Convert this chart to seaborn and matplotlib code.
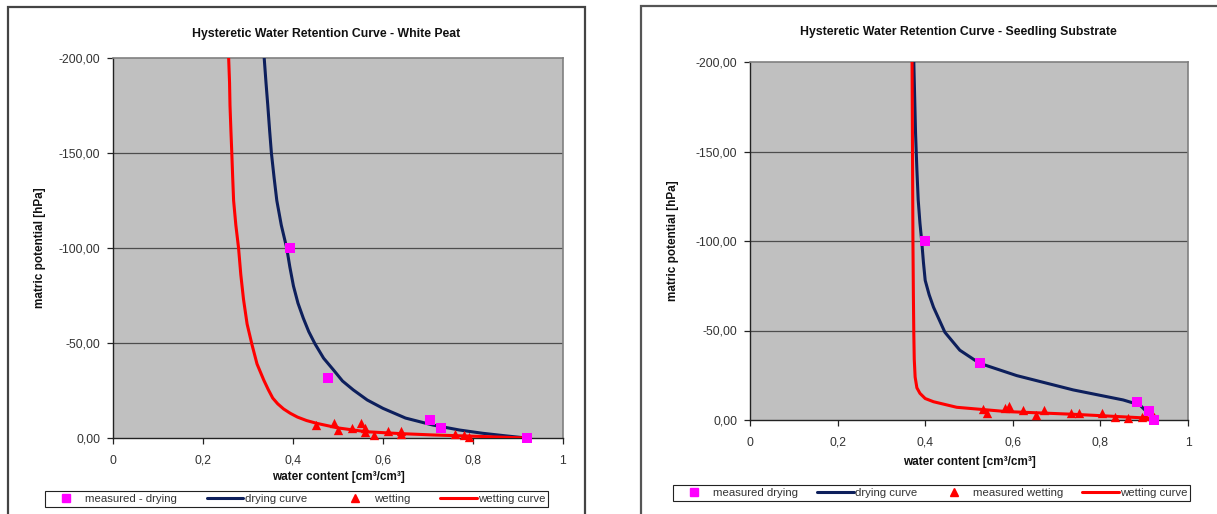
import matplotlib
matplotlib.use("Agg")
import matplotlib.pyplot as plt
from matplotlib.patches import Rectangle
from matplotlib.lines import Line2D
from matplotlib.ticker import FuncFormatter, FixedLocator
import seaborn as sns
import pandas as pd

# ---------------- data ----------------
# White Peat
wp_dry_meas_x = [0.394, 0.477, 0.704, 0.729, 0.920]
wp_dry_meas_y = [-100.0, -31.5, -9.5, -5.3, 0.0]
wp_wet_meas_x = [0.451, 0.492, 0.501, 0.532, 0.551, 0.560, 0.561, 0.580, 0.611, 0.641, 0.641, 0.761, 0.780, 0.790]
wp_wet_meas_y = [-6.8, -7.7, -4.2, -5.4, -7.7, -5.4, -3.0, -1.6, -3.7, -3.7, -1.9, -1.9, -1.6, -0.7]
wp_dry_curve_x = [0.336, 0.340, 0.344, 0.348, 0.352, 0.358, 0.364, 0.374, 0.386, 0.393, 0.401, 0.411, 0.423, 0.435, 0.449, 0.468, 0.490, 0.510, 0.534, 0.565, 0.600, 0.650, 0.711, 0.770, 0.821, 0.870, 0.918]
wp_dry_curve_y = [-200, -187, -175, -162, -150, -137, -125, -112, -100, -90, -80, -71, -63, -56, -49.5, -42, -35.8, -30, -25.3, -20, -15.6, -10.5, -6.8, -4.2, -2.5, -1.2, 0]
wp_wet_curve_x = [0.257, 0.259, 0.260, 0.262, 0.264, 0.266, 0.268, 0.273, 0.279, 0.284, 0.290, 0.298, 0.309, 0.320, 0.335, 0.345, 0.355, 0.366, 0.379, 0.394, 0.410, 0.430, 0.453, 0.500, 0.563, 0.640, 0.711, 0.820, 0.918]
wp_wet_curve_y = [-200, -187, -175, -162, -150, -137, -125, -112, -100, -86, -73, -60, -49, -39, -30.5, -25.5, -21, -18, -15.3, -13, -11, -9.2, -7.7, -5.3, -3.3, -2.3, -1.6, -0.8, 0]

# Seedling Substrate
ss_dry_meas_x = [0.400, 0.524, 0.883, 0.912, 0.922]
ss_dry_meas_y = [-100.0, -31.7, -9.9, -5.0, 0.0]
ss_wet_meas_x = [0.531, 0.540, 0.582, 0.592, 0.623, 0.652, 0.672, 0.733, 0.752, 0.803, 0.833, 0.864, 0.894, 0.902, 0.922]
ss_wet_meas_y = [-6.0, -4.1, -6.5, -7.8, -5.6, -2.8, -5.6, -3.7, -3.7, -3.7, -1.9, -0.9, -1.9, -2.2, -1.9]
ss_dry_curve_x = [0.374, 0.376, 0.378, 0.381, 0.384, 0.388, 0.392, 0.396, 0.400, 0.409, 0.419, 0.445, 0.479, 0.524, 0.609, 0.738, 0.852, 0.890, 0.921]
ss_dry_curve_y = [-200, -180, -160, -140, -123, -110, -100, -88, -78, -70, -63, -49, -39, -31.7, -24.8, -16.8, -11.2, -8.4, -0.9]
ss_wet_curve_x = [0.370, 0.371, 0.372, 0.373, 0.374, 0.375, 0.377, 0.381, 0.388, 0.400, 0.419, 0.472, 0.586, 0.738, 0.921]
ss_wet_curve_y = [-200, -150, -100, -70, -48, -34, -24, -18, -14.9, -12, -10.2, -7.1, -4.7, -3.2, -0.9]

titles = ["Hysteretic Water Retention Curve - White Peat",
          "Hysteretic Water Retention Curve - Seedling Substrate"]
legend_labels = [["measured - drying", "drying curve", "wetting", "wetting curve"],
                 ["measured drying", "drying curve", "measured wetting", "wetting curve"]]
x_label = "water content [cm³/cm³]"
y_label = "matric potential [hPa]"
x_ticks = [0, 0.2, 0.4, 0.6, 0.8, 1.0]
y_ticks = [0, -50, -100, -150, -200]

MAGENTA = "#FF00FF"
NAVY = "#0D1F5C"
RED = "#FF0000"
PLOTBG = "#C0C0C0"
TXT = "#333333"

sns.set_style("white")
plt.rcParams['font.family'] = ['Liberation Sans', 'DejaVu Sans']

W, H = 1217, 514
fig = plt.figure(figsize=(W / 100, H / 100), dpi=100)
fig.patch.set_facecolor("white")

def fx(px):
    return px / W

def fy(py):
    return 1 - py / H

# outer chart frames
fig.patches.append(Rectangle((fx(8), fy(530)), fx(585) - fx(8), fy(7) - fy(530),
                             transform=fig.transFigure, fill=False, edgecolor="#444444", lw=1.6, zorder=0))
fig.patches.append(Rectangle((fx(641), fy(530)), fx(1240) - fx(641), fy(6) - fy(530),
                             transform=fig.transFigure, fill=False, edgecolor="#555555", lw=1.6, zorder=0))

panels = [
    dict(rect=(113, 58, 563, 438), title_xy=(326, 34), ylab_x=40, xlab_y=477, leg=(45, 487, 548, 507),
         dmx=wp_dry_meas_x, dmy=wp_dry_meas_y, wmx=wp_wet_meas_x, wmy=wp_wet_meas_y,
         dcx=wp_dry_curve_x, dcy=wp_dry_curve_y, wcx=wp_wet_curve_x, wcy=wp_wet_curve_y),
    dict(rect=(750, 62, 1188, 420), title_xy=(958, 32), ylab_x=673, xlab_y=462, leg=(673, 482, 1190, 501),
         dmx=ss_dry_meas_x, dmy=ss_dry_meas_y, wmx=ss_wet_meas_x, wmy=ss_wet_meas_y,
         dcx=ss_dry_curve_x, dcy=ss_dry_curve_y, wcx=ss_wet_curve_x, wcy=ss_wet_curve_y),
]

def yfmt(v, pos):
    return f"{v:.2f}".replace(".", ",")

def xfmt(v, pos):
    s = f"{v:.1f}".replace(".", ",")
    return "0" if abs(v) < 1e-9 else ("1" if abs(v - 1) < 1e-9 else s)

for i, p in enumerate(panels):
    x0, y0, x1, y1 = p["rect"]
    ax = fig.add_axes([fx(x0), fy(y1), fx(x1) - fx(x0), fy(y0) - fy(y1)])
    ax.set_facecolor(PLOTBG)

    for yv in [-50, -100, -150]:
        ax.axhline(yv, color="#4d4d4d", lw=0.9, zorder=1)

    dc = pd.DataFrame({"x": p["dcx"], "y": p["dcy"]})
    wc = pd.DataFrame({"x": p["wcx"], "y": p["wcy"]})
    dm = pd.DataFrame({"x": p["dmx"], "y": p["dmy"]})
    wm = pd.DataFrame({"x": p["wmx"], "y": p["wmy"]})

    sns.lineplot(data=dc, x="x", y="y", sort=False, estimator=None, color=NAVY, lw=2.2, ax=ax, zorder=3)
    sns.lineplot(data=wc, x="x", y="y", sort=False, estimator=None, color=RED, lw=2.2, ax=ax, zorder=3)
    sns.scatterplot(data=wm, x="x", y="y", marker="^", s=45, color=RED, edgecolor=RED, linewidth=0,
                    ax=ax, zorder=4, clip_on=False)
    sns.scatterplot(data=dm, x="x", y="y", marker="s", s=45, color=MAGENTA, edgecolor=MAGENTA, linewidth=0,
                    ax=ax, zorder=5, clip_on=False)

    ax.set_xlim(0, 1)
    ax.set_ylim(0, -200)
    ax.xaxis.set_major_locator(FixedLocator(x_ticks))
    ax.yaxis.set_major_locator(FixedLocator(y_ticks))
    ax.xaxis.set_major_formatter(FuncFormatter(xfmt))
    ax.yaxis.set_major_formatter(FuncFormatter(yfmt))
    ax.tick_params(axis="both", direction="out", length=4, width=0.9, color="#222222",
                   labelsize=8.8, labelcolor=TXT, bottom=True, left=True)
    ax.tick_params(axis="x", pad=8)
    ax.tick_params(axis="y", pad=5)
    ax.set_xlabel("")
    ax.set_ylabel("")
    for side in ["left", "bottom"]:
        ax.spines[side].set_color("#222222")
        ax.spines[side].set_linewidth(1.0)
    for side in ["top", "right"]:
        ax.spines[side].set_color("#808080")
        ax.spines[side].set_linewidth(1.2)
    ax.grid(False)

    tx, ty = p["title_xy"]
    fig.text(fx(tx), fy(ty), titles[i], ha="center", va="center", fontsize=8.8,
             fontweight="bold", color="#111111")
    fig.text(fx(p["ylab_x"]), fy((y0 + y1) / 2), y_label, rotation=90, ha="center", va="center",
             fontsize=8.5, fontweight="bold", color="#111111")
    fig.text(fx((x0 + x1) / 2), fy(p["xlab_y"]), x_label, ha="center", va="center",
             fontsize=8.5, fontweight="bold", color="#111111")

    handles = [
        Line2D([], [], marker="s", ls="none", color=MAGENTA, markersize=5.5),
        Line2D([], [], color=NAVY, lw=2.2),
        Line2D([], [], marker="^", ls="none", color=RED, markersize=5.5),
        Line2D([], [], color=RED, lw=2.2),
    ]
    lx0, ly0, lx1, ly1 = p["leg"]
    leg = fig.legend(handles, legend_labels[i], loc="lower left",
                     bbox_to_anchor=(fx(lx0), fy(ly1), fx(lx1) - fx(lx0), fy(ly0) - fy(ly1)),
                     mode="expand", ncol=4, frameon=True, fancybox=False, fontsize=8.2,
                     handlelength=3.2, handletextpad=0.1, borderaxespad=0, borderpad=0.25,
                     columnspacing=1.0, framealpha=1)
    leg.get_frame().set_edgecolor("#222222")
    leg.get_frame().set_linewidth(0.8)
    for t in leg.get_texts():
        t.set_color(TXT)

fig.savefig("out.png", dpi=100, facecolor="white")
